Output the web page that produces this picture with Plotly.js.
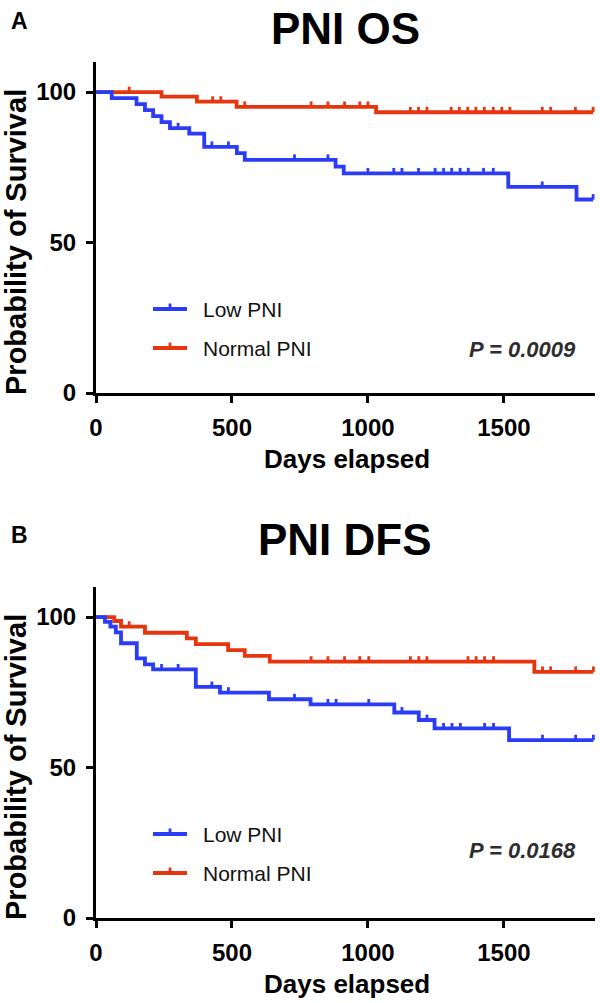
<!DOCTYPE html>
<html>
<head>
<meta charset="utf-8">
<script src="https://cdn.plot.ly/plotly-3.0.1.min.js"></script>
<style>html,body{margin:0;padding:0;background:#fff;}#chart{width:600px;height:1003px;}</style>
</head>
<body>
<div id="chart"></div>
<script>
// ---------- DATA ----------
// Panel A: overall survival (PNI OS)
const osLowEventDays   = [58, 149, 180, 210, 241, 272, 343, 398, 518, 547, 881, 911, 1516, 1767];
const osLowEventSurv   = [98.0, 96.0, 94.0, 92.0, 90.0, 88.0, 86.2, 81.8, 79.7, 77.5, 75.2, 73.0, 68.5, 64.3];
const osLowCensorDays  = [302, 426, 487, 730, 853, 1000, 1095, 1125, 1186, 1247, 1278, 1308, 1339, 1369, 1425, 1461, 1641, 1828];

const osNormEventDays  = [241, 371, 517, 1030];
const osNormEventSurv  = [98.5, 96.8, 95.1, 93.3];
const osNormCensorDays = [122, 429, 459, 547, 791, 853, 914, 970, 1000, 1156, 1186, 1217, 1306, 1336, 1367, 1397, 1428, 1461, 1492, 1522, 1641, 1672, 1763, 1828];

// Panel B: disease-free survival (PNI DFS)
const dfsLowEventDays   = [33, 53, 73, 92, 150, 180, 210, 367, 456, 636, 789, 1097, 1187, 1245, 1519];
const dfsLowEventSurv   = [98.4, 96.8, 94.9, 91.3, 86.3, 84.3, 82.6, 76.8, 74.9, 72.7, 71.0, 68.3, 65.8, 63.0, 59.1];
const dfsLowCensorDays  = [241, 302, 426, 487, 730, 853, 883, 1003, 1125, 1217, 1278, 1309, 1340, 1429, 1462, 1642, 1764, 1829];

const dfsNormEventDays  = [67, 92, 180, 334, 367, 486, 547, 639, 1612];
const dfsNormEventSurv  = [98.7, 96.8, 94.8, 92.9, 91.0, 89.0, 87.1, 85.2, 81.8];
const dfsNormCensorDays = [122, 791, 853, 914, 970, 1003, 1156, 1187, 1217, 1368, 1398, 1429, 1462, 1642, 1672, 1764, 1829];

const seriesNames = ['Low PNI', 'Normal PNI'];
const panelTitles = ['PNI OS', 'PNI DFS'];
const panelLetters = ['A', 'B'];
const pValues = ['P = 0.0009', 'P = 0.0168'];
const xTicks = [0, 500, 1000, 1500];
const yTicks = [0, 50, 100];
const xTitle = 'Days elapsed';
const yTitle = 'Probability of Survival';

// ---------- STYLE ----------
const BLUE = '#2b3cf6';
const RED = '#e5360f';
const FONT = 'Liberation Sans, Arial, Helvetica, sans-serif';
const W = 600, H = 1003, L = 96, R = 5;
const px = x => (x - L) / (W - L - R);
const py = y => (H - y) / H;
const TICK_UP = 1.8;

// Kaplan-Meier step lookup
function survAt(day, evDays, evSurv) {
  let s = 100;
  for (let i = 0; i < evDays.length; i++) { if (evDays[i] <= day) s = evSurv[i]; }
  return s;
}
function kmTraces(evDays, evSurv, cenDays, color, xa, ya) {
  const endDay = Math.max(...cenDays, ...evDays);
  const xs = [0, ...evDays, endDay];
  const ys = [100, ...evSurv, evSurv[evSurv.length - 1]];
  const line = {x: xs, y: ys, type: 'scatter', mode: 'lines', line: {shape: 'hv', color: color, width: 3.8},
    xaxis: xa, yaxis: ya, showlegend: false, hoverinfo: 'skip'};
  const cen = {x: cenDays, y: cenDays.map(d => survAt(d, evDays, evSurv)), type: 'scatter', mode: 'markers',
    marker: {size: 1, color: 'rgba(0,0,0,0)'},
    error_y: {type: 'data', symmetric: false, array: cenDays.map(() => TICK_UP), arrayminus: cenDays.map(() => 0),
      width: 0, thickness: 2.8, color: color},
    xaxis: xa, yaxis: ya, showlegend: false, hoverinfo: 'skip'};
  return [line, cen];
}

const data = [
  ...kmTraces(osNormEventDays, osNormEventSurv, osNormCensorDays, RED, 'x', 'y'),
  ...kmTraces(osLowEventDays, osLowEventSurv, osLowCensorDays, BLUE, 'x', 'y'),
  ...kmTraces(dfsNormEventDays, dfsNormEventSurv, dfsNormCensorDays, RED, 'x2', 'y2'),
  ...kmTraces(dfsLowEventDays, dfsLowEventSurv, dfsLowCensorDays, BLUE, 'x2', 'y2'),
];

const tickFont = {family: FONT, size: 24, weight: 'bold', color: '#000'};
function xAxis(anchor) {
  return {domain: [0, 1], anchor: anchor, range: [0, 1835], tickvals: xTicks, ticks: 'outside', ticklen: 7, tickwidth: 3,
    tickcolor: '#000', showline: true, linewidth: 3, linecolor: '#000', showgrid: false, zeroline: false,
    tickfont: tickFont, ticklabelstandoff: 4, fixedrange: true};
}
function yAxis(anchor, dom) {
  return {domain: dom, anchor: anchor, range: [0, 110], tickvals: yTicks, ticks: 'outside', ticklen: 7, tickwidth: 3,
    tickcolor: '#000', showline: true, linewidth: 3, linecolor: '#000', showgrid: false, zeroline: false,
    tickfont: tickFont, ticklabelstandoff: 5, fixedrange: true};
}

const OFF = 525; // vertical offset of panel B
const annotations = [];
const shapes = [];
[0, 1].forEach(p => {
  const o = p * OFF;
  annotations.push({text: panelLetters[p], xref: 'paper', yref: 'paper', x: px(19), y: py(p ? 535 : 21), xanchor: 'center', yanchor: 'middle', showarrow: false,
    font: {family: FONT, size: 23, weight: 'bold', color: '#000'}});
  annotations.push({text: panelTitles[p], xref: 'paper', yref: 'paper', x: px(345), y: py(p ? 539 : 29), xanchor: 'center', yanchor: 'middle', showarrow: false,
    font: {family: FONT, size: 44, weight: 'bold', color: '#000'}});
  annotations.push({text: yTitle, xref: 'paper', yref: 'paper', x: px(16), y: py(242 + o), xanchor: 'center', yanchor: 'middle', textangle: -90, showarrow: false,
    font: {family: FONT, size: 29, weight: 'bold', color: '#000'}});
  annotations.push({text: xTitle, xref: 'paper', yref: 'paper', x: px(347), y: py(459 + o), xanchor: 'center', yanchor: 'middle', showarrow: false,
    font: {family: FONT, size: 26, weight: 'bold', color: '#000'}});
  // legend
  const legY = [309 + o, 348 + o];
  [BLUE, RED].forEach((c, i) => {
    shapes.push({type: 'line', xref: 'paper', yref: 'paper', x0: px(153), x1: px(187), y0: py(legY[i]), y1: py(legY[i]), line: {color: c, width: 3.8}});
    shapes.push({type: 'line', xref: 'paper', yref: 'paper', x0: px(170), x1: px(170), y0: py(legY[i]), y1: py(legY[i] - 5.5), line: {color: c, width: 2.8}});
    annotations.push({text: seriesNames[i], xref: 'paper', yref: 'paper', x: px(201), y: py(legY[i]), xanchor: 'left', yanchor: 'middle', showarrow: false,
      font: {family: FONT, size: 21, color: '#111'}});
  });
  annotations.push({text: '<i>' + pValues[p] + '</i>', xref: 'paper', yref: 'paper', x: px(578), y: py(p ? 850 : 349), xanchor: 'right', yanchor: 'middle', showarrow: false,
    font: {family: FONT, size: 22, weight: 'bold', color: '#2e2e2e'}});
});

const layout = {
  width: W, height: H,
  margin: {l: L, r: R, t: 0, b: 0},
  paper_bgcolor: '#fff', plot_bgcolor: '#fff',
  showlegend: false,
  xaxis: xAxis('y'),
  yaxis: yAxis('x', [py(393), py(62)]),
  xaxis2: xAxis('y2'),
  yaxis2: yAxis('x2', [py(918), py(587)]),
  annotations: annotations,
  shapes: shapes
};

Plotly.newPlot('chart', data, layout, {displayModeBar: false, staticPlot: true});
</script>
</body>
</html>
